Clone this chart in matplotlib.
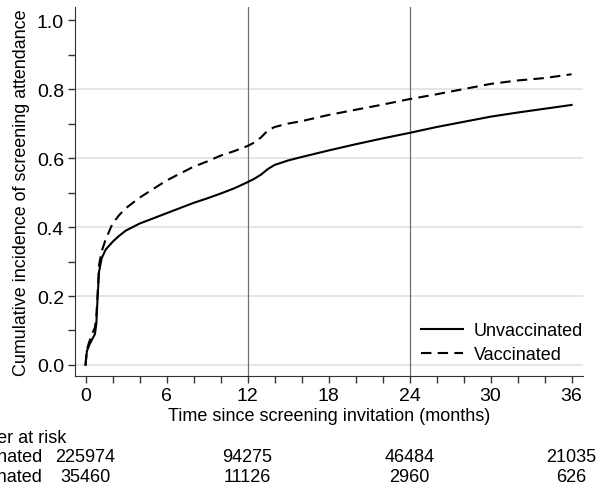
import matplotlib
matplotlib.use('Agg')
import matplotlib.pyplot as plt
import matplotlib.transforms as mtransforms

plt.rcParams['font.family'] = ['Liberation Sans', 'DejaVu Sans']
plt.rcParams['font.size'] = 13

# Dados
meses = [0, 0.1, 0.3, 0.5, 0.7, 0.8, 0.9, 1.0, 1.2, 1.5, 2, 2.5, 3, 3.5, 4, 5, 6, 7, 8, 9, 10, 11,
         12, 12.5, 13, 13.5, 14, 15, 16, 18, 20, 22, 24, 26, 28, 30, 32, 34, 36]
nao_vacinadas = [0, 0.04, 0.06, 0.075, 0.09, 0.12, 0.2, 0.27, 0.31, 0.335, 0.357, 0.375, 0.39, 0.40,
                 0.41, 0.425, 0.44, 0.455, 0.47, 0.483, 0.497, 0.512, 0.53, 0.54, 0.552, 0.568, 0.58,
                 0.593, 0.603, 0.622, 0.64, 0.657, 0.673, 0.69, 0.705, 0.72, 0.732, 0.743, 0.754]
vacinadas = [0, 0.045, 0.07, 0.09, 0.11, 0.14, 0.21, 0.29, 0.33, 0.365, 0.41, 0.435, 0.455, 0.47,
             0.485, 0.51, 0.535, 0.555, 0.575, 0.59, 0.607, 0.62, 0.635, 0.645, 0.66, 0.68, 0.69,
             0.70, 0.707, 0.725, 0.74, 0.755, 0.771, 0.785, 0.80, 0.815, 0.825, 0.832, 0.843]

meses_risco = [0, 12, 24, 36]
risco_nao_vac = ['225974', '94275', '46484', '21035']
risco_vac = ['35460', '11126', '2960', '626']

fig = plt.figure(figsize=(6, 4.89), dpi=100)
ax = fig.add_axes([0.125, 0.229, 0.8467, 0.7546])

for v in [0, 0.2, 0.4, 0.6, 0.8]:
    ax.axhline(v, color='#e3e3e3', lw=1.3, zorder=0)
for v in [12, 24]:
    ax.axvline(v, color='#707070', lw=0.9, zorder=1)

ax.plot(meses, nao_vacinadas, color='black', lw=1.5, label='Unvaccinated', zorder=3)
ax.plot(meses, vacinadas, color='black', lw=1.5, dashes=(5, 3), label='Vaccinated', zorder=3)

ax.set_xlim(-0.78, 36.85)
ax.set_ylim(-0.032, 1.038)
ax.set_xticks(range(0, 37, 6))
ax.set_xticks(range(0, 37, 2), minor=True)
ax.set_yticks([0, 0.2, 0.4, 0.6, 0.8, 1.0])
ax.set_yticklabels(['0.0', '0.2', '0.4', '0.6', '0.8', '1.0'])
ax.set_yticks([0.1, 0.3, 0.5, 0.7, 0.9], minor=True)
ax.tick_params(which='both', direction='out', length=5, width=1, color='#333333',
               labelsize=14, pad=3)
for s in ['top', 'right']:
    ax.spines[s].set_visible(False)
for s in ['left', 'bottom']:
    ax.spines[s].set_color('#333333')

ax.set_xlabel('Time since screening invitation (months)', labelpad=2)
ax.set_ylabel('Cumulative incidence of screening attendance', fontsize=12.9, labelpad=5)

ax.legend(loc='lower right', frameon=False, handlelength=2.3, handletextpad=0.6,
          borderaxespad=0, borderpad=0, labelspacing=0.4, bbox_to_anchor=(1.0, 0.035))

# Tabela de número em risco
trans = mtransforms.blended_transform_factory(ax.transData, fig.transFigure)
fig.text(-0.085, 0.104, 'Number at risk', ha='left', va='center')
fig.text(0.072, 0.0654, 'Unvaccinated', ha='right', va='center')
fig.text(0.072, 0.0245, 'Vaccinated', ha='right', va='center')
for m, a, b in zip(meses_risco, risco_nao_vac, risco_vac):
    fig.text(m, 0.0654, a, ha='center', va='center', transform=trans)
    fig.text(m, 0.0245, b, ha='center', va='center', transform=trans)

fig.savefig('out.png', dpi=100)
